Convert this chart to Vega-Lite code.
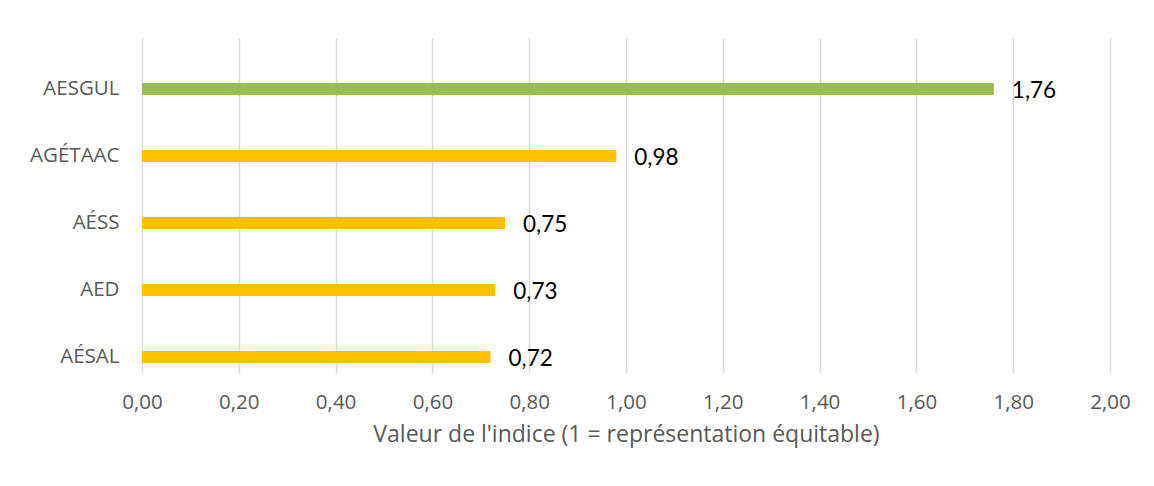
{
  "$schema": "https://vega.github.io/schema/vega-lite/v6.json",
  "width": 968,
  "height": 335,
  "autosize": {"type": "none"},
  "padding": {"left": 142, "top": 38, "right": 44, "bottom": 113},
  "background": "white",
  "config": {
    "view": {"stroke": null},
    "locale": {"number": {"decimal": ",", "thousands": " ", "grouping": [3], "currency": ["", " €"]}}
  },
  "data": {
    "values": [
      {"org": "AESGUL", "value": 1.76, "group": "a"},
      {"org": "AGÉTAAC", "value": 0.98, "group": "b"},
      {"org": "AÉSS", "value": 0.75, "group": "b"},
      {"org": "AED", "value": 0.73, "group": "b"},
      {"org": "AÉSAL", "value": 0.72, "group": "b"}
    ]
  },
  "encoding": {
    "y": {
      "field": "org",
      "type": "nominal",
      "sort": ["AESGUL", "AGÉTAAC", "AÉSS", "AED", "AÉSAL"],
      "scale": {"paddingInner": 0.82, "paddingOuter": 0.41, "align": 0.818},
      "axis": {
        "title": null,
        "domain": false,
        "ticks": false,
        "labelPadding": 23,
        "labelFont": "Open Sans",
        "labelFontSize": 20.5,
        "labelColor": "#595959"
      }
    },
    "x": {
      "field": "value",
      "type": "quantitative",
      "scale": {"domain": [0, 2], "nice": false},
      "axis": {
        "values": [0, 0.2, 0.4, 0.6, 0.8, 1, 1.2, 1.4, 1.6, 1.8, 2],
        "format": ".2f",
        "domain": false,
        "ticks": false,
        "grid": true,
        "gridColor": "#d9d9d9",
        "gridWidth": 1.5,
        "labelFlush": false,
        "labelOverlap": false,
        "labelPadding": 19,
        "labelFont": "Open Sans",
        "labelFontSize": 20.5,
        "labelColor": "#595959",
        "title": "Valeur de l'indice (1 = représentation équitable)",
        "titleFont": "Open Sans",
        "titleFontSize": 23,
        "titleFontWeight": "normal",
        "titleColor": "#595959",
        "titlePadding": 11
      }
    }
  },
  "layer": [
    {
      "mark": {"type": "bar"},
      "encoding": {
        "color": {
          "field": "group",
          "type": "nominal",
          "scale": {"domain": ["a", "b"], "range": ["#9BBB59", "#FFC000"]},
          "legend": null
        }
      }
    },
    {
      "mark": {"type": "text", "align": "left", "baseline": "middle", "dx": 18, "dy": 2, "font": "Lato", "fontSize": 22.5, "color": "#000000"},
      "encoding": {
        "text": {"field": "value", "type": "quantitative", "format": ".2f"}
      }
    }
  ]
}
